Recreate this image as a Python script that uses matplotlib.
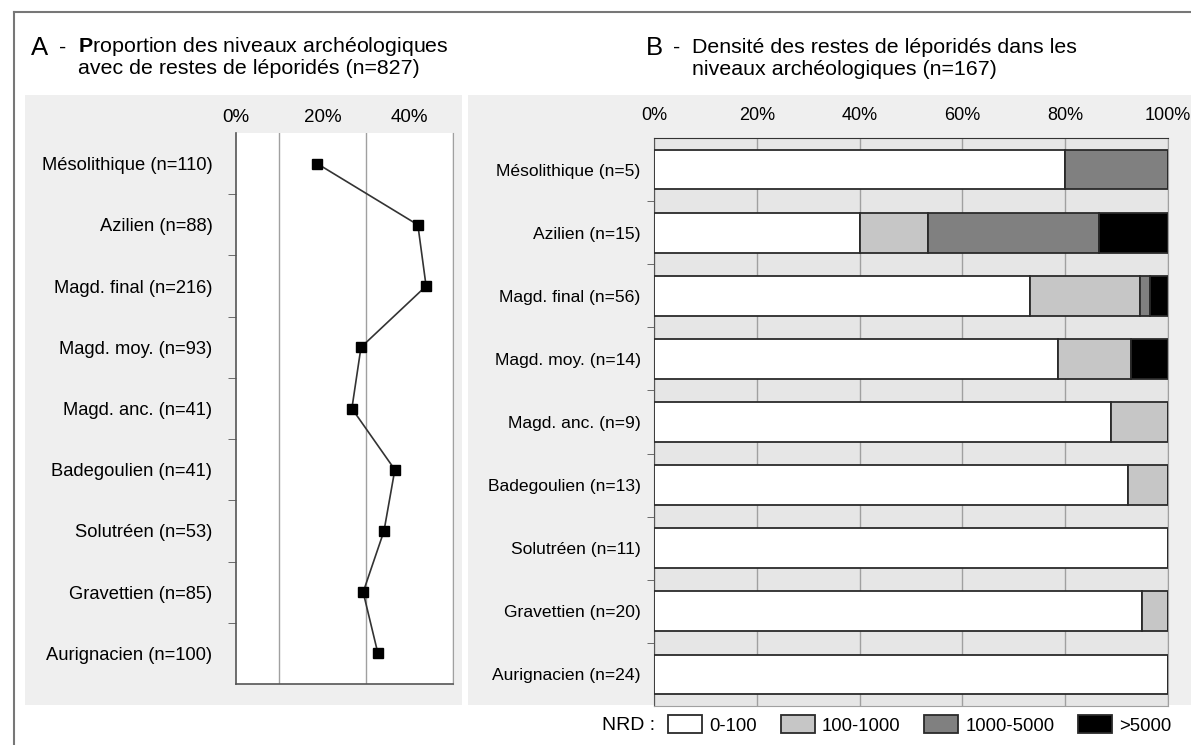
import numpy as np
import matplotlib.pyplot as plt
from matplotlib.patches import Rectangle
from matplotlib.lines import Line2D
from matplotlib.transforms import ScaledTranslation

plt.rcParams['font.family'] = ['Liberation Sans', 'DejaVu Sans']
plt.rcParams['mathtext.fontset'] = 'custom'
plt.rcParams['mathtext.rm'] = 'Liberation Sans'
plt.rcParams['mathtext.bf'] = 'Liberation Sans:bold'

# --- données ---
periodes = ["Mésolithique", "Azilien", "Magd. final", "Magd. moy.", "Magd. anc.",
            "Badegoulien", "Solutréen", "Gravettien", "Aurignacien"]

# A : proportion des niveaux avec léporidés (%)
n_niveaux = [110, 88, 216, 93, 41, 41, 53, 85, 100]
prop_lepor = [18.7, 41.9, 43.8, 28.8, 26.7, 36.6, 34.1, 29.3, 32.7]

# B : nombre de niveaux par classe de NRD
n_lepor = [5, 15, 56, 14, 9, 13, 11, 20, 24]
classes = ["0-100", "100-1000", "1000-5000", ">5000"]
nrd_0_100 = [4, 6, 41, 11, 8, 12, 11, 19, 24]
nrd_100_1000 = [0, 2, 12, 2, 1, 1, 0, 1, 0]
nrd_1000_5000 = [1, 5, 1, 0, 0, 0, 0, 0, 0]
nrd_sup_5000 = [0, 2, 2, 1, 0, 0, 0, 0, 0]

couleurs = ['white', '#c6c6c6', '#808080', 'black']

W, H = 1191, 745
fig = plt.figure(figsize=(W / 100, H / 100), dpi=100)


def fx(px):
    return px / W


def fy(py):
    return 1 - py / H


# fonds gris clair derrière les panneaux
for x0, x1 in [(25, 462), (468, 1191)]:
    fig.add_artist(Rectangle((fx(x0), fy(705)), fx(x1 - x0), (705 - 95) / H,
                             transform=fig.transFigure, facecolor='#efefef',
                             edgecolor='none', zorder=-5))

# cadre
fig.add_artist(Line2D([fx(14), 1], [fy(12), fy(12)], transform=fig.transFigure,
                      color='#777777', lw=1.5))
fig.add_artist(Line2D([fx(14), fx(14)], [fy(12), 0], transform=fig.transFigure,
                      color='#777777', lw=1.5))

y = np.arange(len(periodes))

# ---------- A ----------
axA = fig.add_axes([fx(236), fy(684), fx(453 - 236), (684 - 133) / H])
axA.set_facecolor('white')
axA.plot(prop_lepor, y, color='#333333', lw=1.2, marker='s', ms=6.5,
         mfc='black', mec='black', zorder=3)
axA.set_xlim(0, 50)
axA.set_ylim(len(periodes) - 0.5, -0.5)
axA.xaxis.tick_top()
axA.set_xticks([0, 20, 40])
axA.set_xticklabels(['0%', '20%', '40%'], fontsize=13.5)
for lab, dx in zip(axA.get_xticklabels(), [2, 9, 8]):
    lab.set_transform(lab.get_transform() + ScaledTranslation(dx / 100, 0, fig.dpi_scale_trans))
axA.set_xticks(np.arange(0, 51, 10), minor=True)
axA.tick_params(axis='x', which='both', length=0, pad=5)
axA.grid(which='minor', axis='x', color='#a0a0a0', lw=1)
axA.set_yticks(y)
axA.set_yticklabels([f"{p} (n={n})" for p, n in zip(periodes, n_niveaux)], fontsize=13.2)
axA.set_yticks(y[:-1] + 0.5, minor=True)
axA.tick_params(axis='y', which='major', length=0, pad=17)
axA.tick_params(axis='y', which='minor', length=6, direction='out', color='#555555')
axA.spines['top'].set_visible(False)
axA.spines['right'].set_color('#a0a0a0')
axA.spines['left'].set_color('#555555')
axA.spines['bottom'].set_color('#555555')
axA.spines['left'].set_linewidth(1.2)
axA.spines['bottom'].set_linewidth(1.2)

# ---------- B ----------
axB = fig.add_axes([fx(654), fy(706), fx(1168 - 654), (706 - 138) / H])
axB.set_facecolor('#e6e6e6')
series = [nrd_0_100, nrd_100_1000, nrd_1000_5000, nrd_sup_5000]
left = np.zeros(len(periodes))
barres = []
for cls, vals, c in zip(classes, series, couleurs):
    pct = np.array(vals) / np.array(n_lepor) * 100
    b = axB.barh(y, pct, left=left, height=0.63, color=c, edgecolor='#2a2a2a',
                 lw=1.3, label=cls, zorder=3)
    barres.append(b)
    left += pct
axB.set_xlim(0, 100)
axB.set_ylim(len(periodes) - 0.5, -0.5)
axB.xaxis.tick_top()
axB.set_xticks(np.arange(0, 101, 20))
axB.set_xticklabels([f"{v}%" for v in range(0, 101, 20)], fontsize=13)
axB.tick_params(axis='x', length=0, pad=10)
axB.grid(axis='x', color='#a0a0a0', lw=1, zorder=1)
axB.set_axisbelow(True)
axB.set_yticks(y)
axB.set_yticklabels([f"{p} (n={n})" for p, n in zip(periodes, n_lepor)], fontsize=12.6)
axB.set_yticks(y[:-1] + 0.5, minor=True)
axB.tick_params(axis='y', which='major', length=0, pad=9.5)
axB.tick_params(axis='y', which='minor', length=5, direction='out', color='#555555')
axB.spines['top'].set_color('#333333')
axB.spines['left'].set_color('#555555')
axB.spines['right'].set_color('#a0a0a0')
axB.spines['bottom'].set_color('#a0a0a0')

# ---------- titres ----------
fig.text(fx(31), fy(55), "A", fontsize=18.5, va='baseline')
fig.text(fx(59), fy(53), "-", fontsize=15.4, va='baseline')
fig.text(fx(78), fy(52), "$\\mathbf{P}$roportion des niveaux archéologiques",
         fontsize=15.4, va='baseline')
fig.text(fx(78), fy(74), "avec de restes de léporidés (n=827)", fontsize=15.4, va='baseline')
fig.text(fx(646), fy(55), "B", fontsize=18.5, va='baseline')
fig.text(fx(673), fy(53), "-", fontsize=15.4, va='baseline')
fig.text(fx(692), fy(53), "Densité des restes de léporidés dans les",
         fontsize=15.4, va='baseline')
fig.text(fx(692), fy(75), "niveaux archéologiques (n=167)", fontsize=15.4, va='baseline')

# ---------- légende ----------
fig.text(fx(602), fy(725), "NRD :", fontsize=14, va='center')
fig.legend(barres, classes, loc='center left', bbox_to_anchor=(fx(668), fy(725)),
           ncol=4, frameon=False, fontsize=13.3, handlelength=1.84, handleheight=1.08,
           columnspacing=1.3, handletextpad=0.38, borderpad=0, borderaxespad=0)

fig.savefig('out.png', dpi=100)
